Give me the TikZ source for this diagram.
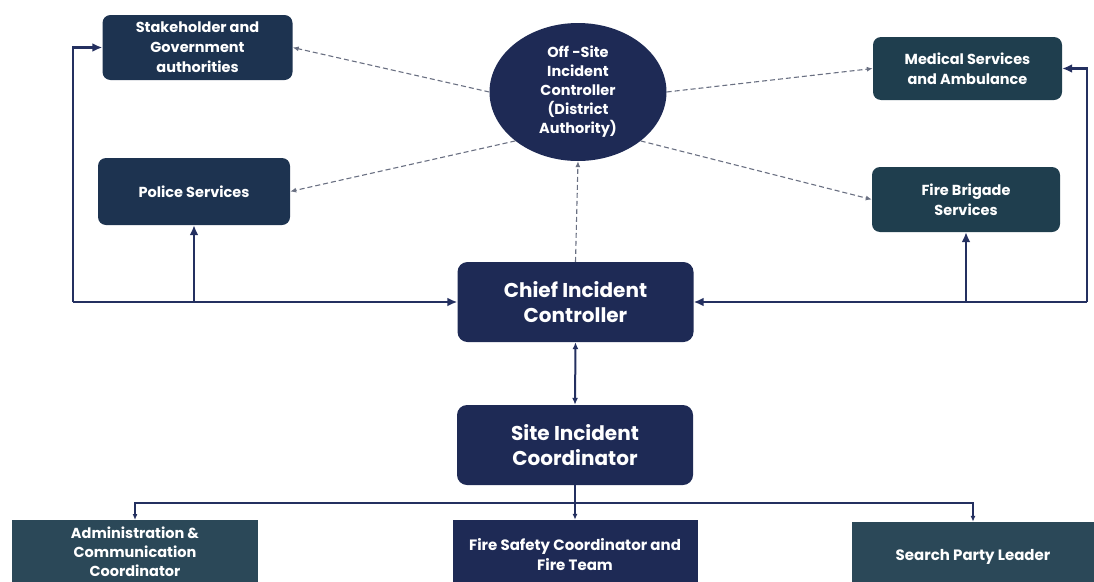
\documentclass[tikz,border=0pt]{standalone}
\usepackage{fontspec}
\setmainfont{Poppins}
\usetikzlibrary{arrows.meta,shapes.geometric,calc}
\definecolor{navy}{HTML}{1E2A55}
\definecolor{navyteal}{HTML}{1D3350}
\definecolor{tealbox}{HTML}{1F3E4E}
\definecolor{grayteal}{HTML}{2B4858}
\definecolor{linecol}{HTML}{243060}
\definecolor{dashcol}{HTML}{6A7082}
\tikzset{
  sbox/.style={draw=none, fill=#1, rounded corners=8pt, text=white, align=center,
    font=\bfseries\fontsize{14.5}{20}\selectfont, inner sep=0pt},
  bigbox/.style={draw=none, fill=navy, rounded corners=10pt, text=white, align=center,
    font=\bfseries\fontsize{20}{25}\selectfont, minimum width=236pt, minimum height=80pt, inner sep=0pt},
  lowbox/.style={draw=none, fill=#1, text=white, align=center,
    font=\bfseries\fontsize{15}{20}\selectfont, minimum height=70pt, inner sep=0pt},
  thick arrow/.style={draw=linecol, line width=2.8pt, -{Latex[length=10pt,width=9pt]}},
  thin arrow/.style={draw=linecol, line width=1.4pt, -{Latex[length=6pt,width=5pt]}},
  dash arrow/.style={draw=dashcol, line width=1.1pt, dash pattern=on 5pt off 3pt, -{Latex[length=6pt,width=5pt]}},
}
\begin{document}
\begin{tikzpicture}[x=1pt,y=-1pt]
\useasboundingbox (0,0) rectangle (1094,581);
\clip (0,0) rectangle (1094,581);
% nodes
\node[sbox=navyteal, minimum width=190pt, minimum height=65pt] (stake) at (197.5,47.5) {Stakeholder and\\Government\\authorities};
\node[sbox=navyteal, minimum width=192pt, minimum height=67pt] (police) at (194,191.5) {Police Services};
\node[sbox=tealbox, minimum width=189pt, minimum height=63pt] (medical) at (967.5,68.5) {Medical Services\\and Ambulance};
\node[sbox=tealbox, minimum width=188pt, minimum height=65pt] (fire) at (966,199.5) {Fire Brigade\\Services};
\node[ellipse, fill=navy, text=white, align=center, minimum width=177pt, minimum height=138pt,
  inner sep=0pt, font=\bfseries\fontsize{14.5}{19}\selectfont] (off) at (578,92) {Off -Site\\Incident\\Controller\\(District\\Authority)};
\node[bigbox] (chief) at (575.5,302) {Chief Incident\\Controller};
\node[bigbox] (site) at (575,445) {Site Incident\\Coordinator};
\node[lowbox=grayteal, minimum width=246pt, minimum height=64pt, anchor=north, font=\bfseries\fontsize{14.5}{19}\selectfont] (admin) at (135,520) {Administration \&\\Communication\\Coordinator};
\node[lowbox=navy, minimum width=245pt] (fsc) at (575,555) {Fire Safety Coordinator and\\Fire Team};
\node[lowbox=grayteal, minimum width=242pt] (search) at (973,557) {Search Party Leader};
% coordinates
\coordinate (L) at (73,302);
\coordinate (R) at (1087,302);
\coordinate (J) at (575,503);
% left loop
\draw[thick arrow] (L) -- (chief.west);
\draw[thick arrow] (L) |- (stake.west);
\draw[thick arrow] (police.south |- L) -- (police.south);
% right loop
\draw[thick arrow] (R) -- (chief.east);
\draw[thick arrow] (R) |- (medical.east);
\draw[thick arrow] (fire.south |- R) -- (fire.south);
% dashed links
\draw[dash arrow] (chief.north) -- (off.south);
\draw[dash arrow] (off.west) -- (stake.east);
\draw[dash arrow] (off.south west) -- (police.east);
\draw[dash arrow] (off.east) -- (medical.west);
\draw[dash arrow] (off.south east) -- (fire.west);
% chief - site
\draw[draw=linecol, line width=2pt, {Latex[length=7pt,width=6pt]}-{Latex[length=7pt,width=6pt]}] (chief.south) -- (site.north);
% site to bottom
\draw[draw=linecol, line width=1.4pt] (site.south) -- (J);
\draw[thin arrow] (J) -- (fsc.north);
\draw[thin arrow] (J) -| (admin.north);
\draw[thin arrow] (J) -| (search.north);
\end{tikzpicture}
\end{document}
